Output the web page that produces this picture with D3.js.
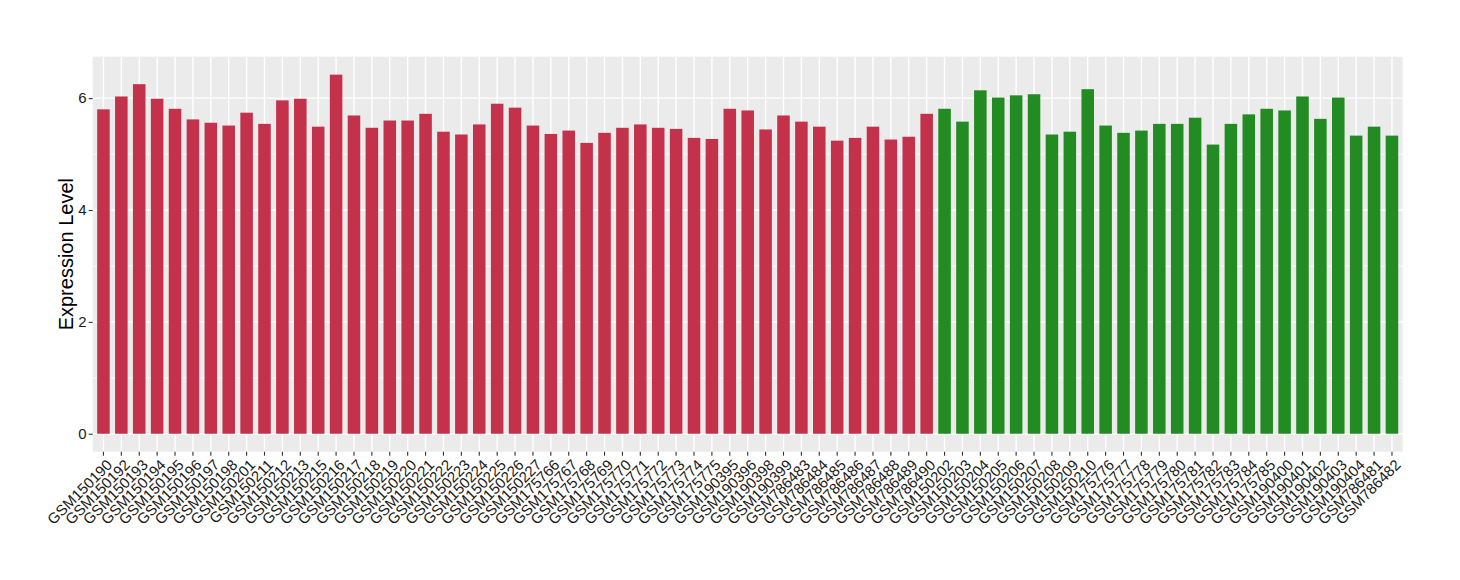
<!doctype html>
<html lang="en">
<head>
<meta charset="utf-8">
<style>
  body { margin: 0; background: #ffffff; }
  svg { display: block; font-family: "Liberation Sans", Arial, sans-serif; }
  .grid-major { stroke: #ffffff; stroke-width: 1.4; }
  .grid-minor { stroke: #ffffff; stroke-width: 0.7; }
  .tick-mark { stroke: #333333; stroke-width: 1.1; }
</style>
</head>
<body>
<script src="https://d3js.org/d3.v7.min.js"></script>
<script>
// samples of the first group (red)
var groupA = ["GSM150190","GSM150192","GSM150193","GSM150194","GSM150195","GSM150196","GSM150197","GSM150198",
  "GSM150201","GSM150211","GSM150212","GSM150213","GSM150215","GSM150216","GSM150217","GSM150218","GSM150219",
  "GSM150220","GSM150221","GSM150222","GSM150223","GSM150224","GSM150225","GSM150226","GSM150227",
  "GSM175766","GSM175767","GSM175768","GSM175769","GSM175770","GSM175771","GSM175772","GSM175773","GSM175774",
  "GSM175775","GSM190395","GSM190396","GSM190398","GSM190399","GSM786483","GSM786484","GSM786485","GSM786486",
  "GSM786487","GSM786488","GSM786489","GSM786490"];
var valuesA = [5.80,6.03,6.25,5.99,5.81,5.62,5.56,5.51,
  5.74,5.54,5.96,5.99,5.49,6.42,5.69,5.47,5.60,
  5.60,5.72,5.40,5.35,5.53,5.90,5.83,5.51,
  5.36,5.42,5.20,5.38,5.47,5.53,5.47,5.45,5.29,
  5.27,5.81,5.78,5.44,5.69,5.58,5.49,5.24,5.29,
  5.49,5.26,5.31,5.72];

// samples of the second group (green)
var groupB = ["GSM150202","GSM150203","GSM150204","GSM150205","GSM150206","GSM150207","GSM150208","GSM150209",
  "GSM150210","GSM175776","GSM175777","GSM175778","GSM175779","GSM175780","GSM175781","GSM175782","GSM175783",
  "GSM175784","GSM175785","GSM190400","GSM190401","GSM190402","GSM190403","GSM190404","GSM786481","GSM786482"];
var valuesB = [5.81,5.58,6.14,6.01,6.05,6.07,5.35,5.40,
  6.16,5.51,5.38,5.42,5.54,5.54,5.65,5.17,5.54,
  5.71,5.81,5.78,6.03,5.63,6.01,5.33,5.49,5.33];

var yTicks = [0, 2, 4, 6];
var yMinor = [1, 3, 5];
var colorA = "#c3314a", colorB = "#228b22";

var width = 1460, height = 580;
var pLeft = 92.7, pRight = 1402.7, pTop = 56.7, pBottom = 451.7;

var rows = groupA.map(function(s, i){ return {s: s, v: valuesA[i], c: colorA}; })
  .concat(groupB.map(function(s, i){ return {s: s, v: valuesB[i], c: colorB}; }));

var svg = d3.select("body").append("svg")
  .attr("width", width)
  .attr("height", height);

var x = d3.scaleBand()
  .domain(rows.map(function(d){ return d.s; }))
  .range([pLeft, pRight])
  .paddingInner(0.3)
  .paddingOuter(0.25);

var maxV = d3.max(rows, function(d){ return d.v; });
var y = d3.scaleLinear()
  .domain([-0.05 * maxV, maxV * 1.05])
  .range([pBottom, pTop]);

// panel
svg.append("rect")
  .attr("x", pLeft).attr("y", pTop)
  .attr("width", pRight - pLeft).attr("height", pBottom - pTop)
  .attr("fill", "#ebebeb");

svg.append("g").selectAll("line")
  .data(yMinor).enter().append("line")
  .attr("class", "grid-minor")
  .attr("x1", pLeft).attr("x2", pRight)
  .attr("y1", function(d){ return y(d); }).attr("y2", function(d){ return y(d); });

svg.append("g").selectAll("line")
  .data(yTicks).enter().append("line")
  .attr("class", "grid-major")
  .attr("x1", pLeft).attr("x2", pRight)
  .attr("y1", function(d){ return y(d); }).attr("y2", function(d){ return y(d); });

svg.append("g").selectAll("line")
  .data(rows).enter().append("line")
  .attr("class", "grid-major")
  .attr("x1", function(d){ return x(d.s) + x.bandwidth() / 2; })
  .attr("x2", function(d){ return x(d.s) + x.bandwidth() / 2; })
  .attr("y1", pTop).attr("y2", pBottom);

// bars
svg.append("g").selectAll("rect")
  .data(rows).enter().append("rect")
  .attr("x", function(d){ return x(d.s); })
  .attr("width", x.bandwidth())
  .attr("y", function(d){ return y(d.v); })
  .attr("height", function(d){ return y(0) - y(d.v); })
  .attr("fill", function(d){ return d.c; });

// y axis
var yAxis = d3.axisLeft(y).tickValues(yTicks).tickFormat(d3.format("d")).tickSize(4).tickPadding(2);
var gy = svg.append("g").attr("transform", "translate(" + pLeft + ",0)").call(yAxis)
  .attr("font-size", 15).attr("font-family", null);
gy.select(".domain").remove();
gy.selectAll(".tick line").attr("class", "tick-mark");
gy.selectAll(".tick text").attr("fill", "#1a1a1a");

// x axis
var xAxis = d3.axisBottom(x).tickSize(4).tickPadding(0);
var gx = svg.append("g").attr("transform", "translate(0," + pBottom + ")").call(xAxis)
  .attr("font-size", 15).attr("font-family", null);
gx.select(".domain").remove();
gx.selectAll(".tick line").attr("class", "tick-mark");
gx.selectAll(".tick text")
  .attr("fill", "#1a1a1a")
  .attr("text-anchor", "end")
  .attr("y", 0).attr("dy", "0.72em")
  .attr("transform", "translate(2,6.5) rotate(-45)");

// y title
svg.append("text")
  .attr("transform", "translate(73," + ((pTop + pBottom) / 2) + ") rotate(-90)")
  .attr("text-anchor", "middle")
  .attr("font-size", "20px")
  .attr("fill", "#000000")
  .text("Expression Level");
</script>
</body>
</html>
